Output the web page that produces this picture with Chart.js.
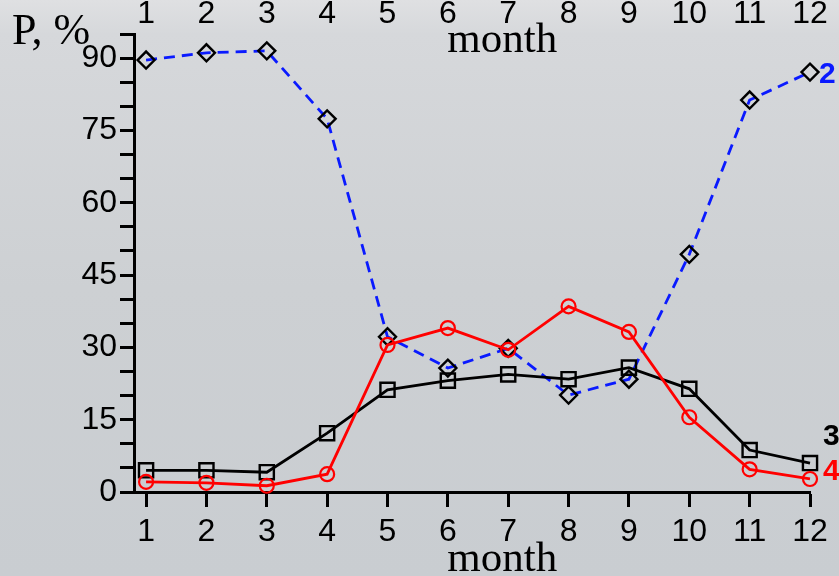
<!DOCTYPE html>
<html>
<head>
<meta charset="utf-8">
<script src="https://cdn.jsdelivr.net/npm/chart.js@4/dist/chart.umd.min.js"></script>
<style>
  html, body { margin: 0; padding: 0; background: #cdd0d4; }
  #wrap { width: 839px; height: 576px; position: relative; }
</style>
</head>
<body>
<div id="wrap"><canvas id="c" width="839" height="576"></canvas></div>
<script>
// ---- data ----
const months = [1, 2, 3, 4, 5, 6, 7, 8, 9, 10, 11, 12];
const series2Blue = [89.6, 91.1, 91.5, 77.4, 32.2, 25.7, 29.8, 20.1, 23.4, 49.3, 81.3, 87.1];
const series3Black = [4.5, 4.5, 4.1, 12.2, 21.2, 23.1, 24.4, 23.4, 25.8, 21.4, 8.7, 6.0];
const series4Red = [2.1, 1.9, 1.3, 3.7, 30.5, 34.0, 29.5, 38.5, 33.2, 15.5, 4.7, 2.7];
const yTickValues = [0, 5, 10, 15, 20, 25, 30, 35, 40, 45, 50, 55, 60, 65, 70, 75, 80, 85, 90, 95];
const yLabelValues = [0, 15, 30, 45, 60, 75, 90];
const seriesLabels = ['2', '3', '4'];
const yAxisTitle = 'P, %';
const xAxisTitle = 'month';

const tickFont = '"Liberation Sans Narrow", "Arial Narrow", "Liberation Sans", Arial, sans-serif';
const toPts = arr => arr.map((v, i) => ({ x: months[i], y: v }));

const bgPlugin = {
  id: 'bg',
  beforeDraw(chart) {
    const ctx = chart.ctx;
    const g = ctx.createLinearGradient(0, 0, 0, chart.height);
    g.addColorStop(0, '#dfe0e2');
    g.addColorStop(0.06, '#d6d8db');
    g.addColorStop(0.5, '#cdd0d3');
    g.addColorStop(1, '#c9cdd1');
    ctx.save();
    ctx.fillStyle = g;
    ctx.fillRect(0, 0, chart.width, chart.height);
    ctx.restore();
  }
};

const textPlugin = {
  id: 'texts',
  afterDraw(chart) {
    const ctx = chart.ctx;
    const xs = chart.scales.x;
    ctx.save();
    // top month numbers
    ctx.fillStyle = '#000';
    ctx.font = '32px ' + tickFont;
    ctx.textAlign = 'center';
    ctx.textBaseline = 'middle';
    months.forEach(m => ctx.fillText(String(m), xs.getPixelForValue(m), 14));
    // axis titles
    ctx.font = '43px "Liberation Serif", "Times New Roman", serif';
    ctx.textBaseline = 'alphabetic';
    ctx.fillText(xAxisTitle, xs.getPixelForValue(6.9), 52);
    ctx.fillText(xAxisTitle, xs.getPixelForValue(6.9), 571);
    ctx.textAlign = 'left';
    ctx.font = '44px "Liberation Serif", "Times New Roman", serif';
    ctx.fillText(yAxisTitle, 12, 44);
    // series labels
    ctx.font = 'bold 30px "Liberation Sans", Arial, sans-serif';
    ctx.textBaseline = 'middle';
    ctx.fillStyle = '#0a1aff';
    ctx.fillText(seriesLabels[0], 819, 75);
    ctx.fillStyle = '#000';
    ctx.fillText(seriesLabels[1], 823, 437);
    ctx.fillStyle = '#ff0000';
    ctx.fillText(seriesLabels[2], 823, 472);
    ctx.restore();
  }
};

new Chart(document.getElementById('c'), {
  type: 'line',
  data: {
    datasets: [
      {
        label: seriesLabels[2],
        data: toPts(series4Red),
        borderColor: '#ff0000',
        borderWidth: 2.8,
        pointStyle: 'circle',
        pointRadius: 7,
        pointBorderWidth: 2.2,
        pointBorderColor: '#ff0000',
        pointBackgroundColor: 'rgba(0,0,0,0)',
        tension: 0,
        clip: false,
        order: 0
      },
      {
        label: seriesLabels[1],
        data: toPts(series3Black),
        borderColor: '#000000',
        borderWidth: 2.8,
        pointStyle: 'rect',
        pointRadius: 10,
        pointBorderWidth: 2.4,
        pointBorderColor: '#000000',
        pointBackgroundColor: 'rgba(0,0,0,0)',
        tension: 0,
        clip: false,
        order: 1
      },
      {
        label: seriesLabels[0],
        data: toPts(series2Blue),
        borderColor: '#0a1aff',
        borderWidth: 2.8,
        borderDash: [11, 7],
        pointStyle: 'rectRot',
        pointRadius: 8.5,
        pointBorderWidth: 2.4,
        pointBorderColor: '#000000',
        pointBackgroundColor: 'rgba(0,0,0,0)',
        tension: 0,
        clip: false,
        order: 2
      }
    ]
  },
  options: {
    responsive: false,
    animation: false,
    devicePixelRatio: 1,
    layout: { padding: { left: 0, right: 29, top: 34, bottom: 0 } },
    plugins: { legend: { display: false }, tooltip: { enabled: false } },
    scales: {
      x: {
        type: 'linear',
        min: 0.8,
        max: 12,
        afterBuildTicks: axis => { axis.ticks = months.map(v => ({ value: v })); },
        afterFit: axis => { axis.height = 84; },
        grid: { display: true, drawOnChartArea: false, drawTicks: true, tickLength: 15, tickWidth: 3, tickColor: '#000' },
        border: { display: true, color: '#000', width: 3 },
        ticks: {
          color: '#000',
          padding: 6,
          maxRotation: 0,
          autoSkip: false,
          font: { family: tickFont, size: 32 },
          callback: v => String(v)
        }
      },
      y: {
        type: 'linear',
        min: 0,
        max: 95,
        afterBuildTicks: axis => { axis.ticks = yTickValues.map(v => ({ value: v })); },
        afterFit: axis => { axis.width = 134; },
        grid: { display: true, drawOnChartArea: false, drawTicks: true, tickLength: 14, tickWidth: 3, tickColor: '#000' },
        border: { display: true, color: '#000', width: 3 },
        ticks: {
          color: '#000',
          padding: 3,
          autoSkip: false,
          font: { family: tickFont, size: 32 },
          callback: v => (yLabelValues.includes(v) ? String(v) : '')
        }
      }
    }
  },
  plugins: [bgPlugin, textPlugin]
});
</script>
</body>
</html>
